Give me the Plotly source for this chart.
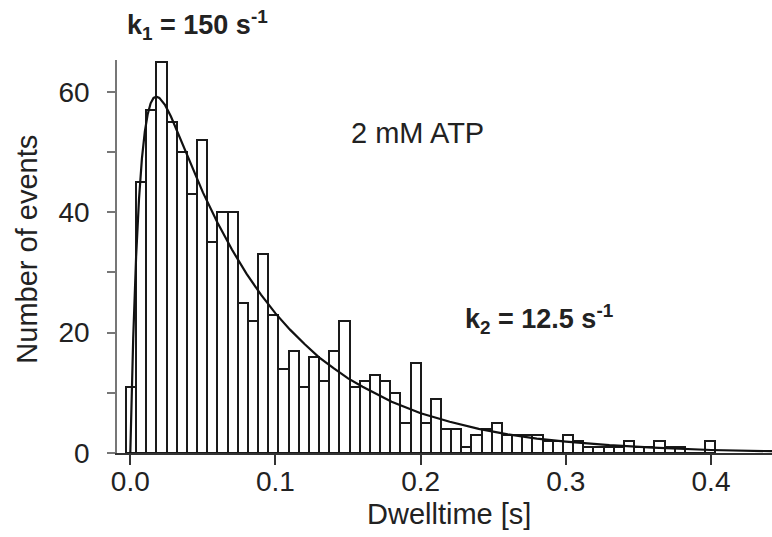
import plotly.graph_objects as go

# ---- data ----
BIN_WIDTH = 0.007
counts = [11, 45, 57, 65, 55, 50, 43, 52, 35, 40,
          40, 25, 22, 33, 23, 14, 17, 11, 16, 12,
          17, 22, 11, 12, 13, 12, 10, 5, 15, 5,
          9, 4, 4, 1, 3, 4, 5, 3, 3, 3,
          3, 2, 2, 3, 2, 1, 1, 1, 1, 2,
          1, 1, 2, 1, 1, 0, 0, 2]
bin_centers = [round(0.0005 + BIN_WIDTH * i, 4) for i in range(len(counts))]

fit_t = [0.0, 0.002, 0.004, 0.006, 0.008, 0.010, 0.012, 0.014, 0.016, 0.018,
         0.020, 0.024, 0.028, 0.032, 0.036, 0.040, 0.045, 0.050, 0.060, 0.070,
         0.080, 0.090, 0.100, 0.110, 0.120, 0.130, 0.140, 0.150, 0.160, 0.180,
         0.200, 0.220, 0.240, 0.260, 0.280, 0.300, 0.330, 0.360, 0.400, 0.442]
fit_n = [0.0, 19.0, 32.6, 42.2, 48.9, 53.4, 56.3, 58.1, 59.0, 59.2,
         59.0, 57.8, 55.9, 53.6, 51.3, 48.9, 46.1, 43.3, 38.3, 33.8,
         29.8, 26.3, 23.2, 20.5, 18.1, 15.9, 14.1, 12.4, 11.0, 8.5,
         6.6, 5.2, 4.0, 3.1, 2.4, 1.9, 1.3, 0.9, 0.5, 0.3]

x_tickvals = [0.0, 0.1, 0.2, 0.3, 0.4]
x_ticktext = ["0.0", "0.1", "0.2", "0.3", "0.4"]
y_tickvals = [0, 20, 40, 60]
y_ticktext = ["0", "20", "40", "60"]
y_minor_tickvals = [10, 30, 50]

FONT = "Liberation Sans, Arial, Helvetica, sans-serif"
TXT = "#222222"

fig = go.Figure()
fig.add_trace(go.Bar(
    x=bin_centers, y=counts, width=BIN_WIDTH,
    marker=dict(color="white", line=dict(color="#1a1a1a", width=2)),
    showlegend=False, hoverinfo="x+y",
))
fig.add_trace(go.Scatter(
    x=fit_t, y=fit_n, mode="lines",
    line=dict(color="#111111", width=2.2),
    showlegend=False,
))

fig.update_layout(
    width=772, height=537,
    margin=dict(l=117, r=0, t=60, b=84),
    paper_bgcolor="white", plot_bgcolor="white",
    bargap=0,
    font=dict(family=FONT, color=TXT),
    xaxis=dict(
        range=[-0.00916, 0.442],
        showline=True, linecolor="#333333", linewidth=1.5,
        ticks="outside", ticklen=10, tickwidth=1.5, tickcolor="#333333",
        tickvals=x_tickvals, ticktext=x_ticktext,
        tickfont=dict(size=28, family=FONT, color=TXT),
        ticklabelstandoff=-7,
        showgrid=False, zeroline=False,
    ),
    yaxis=dict(
        range=[0, 65.3],
        showline=True, linecolor="#777777", linewidth=1.5,
        ticks="outside", ticklen=8, tickwidth=1.5, tickcolor="#777777",
        tickvals=y_tickvals, ticktext=y_ticktext,
        tickfont=dict(size=28, family=FONT, color=TXT),
        ticklabelstandoff=12,
        minor=dict(tickvals=y_minor_tickvals, ticks="outside", ticklen=8,
                   tickwidth=1.5, tickcolor="#777777", showgrid=False),
        showgrid=False, zeroline=False,
    ),
    annotations=[
        dict(text="Dwelltime [s]", xref="paper", yref="paper",
             x=0.507, y=-0.156, xanchor="center", yanchor="middle",
             showarrow=False, font=dict(size=29, family=FONT, color=TXT)),
        dict(text="Number of events", xref="paper", yref="paper",
             x=-0.137, y=0.518, xanchor="center", yanchor="middle",
             textangle=-90, showarrow=False,
             font=dict(size=29, family=FONT, color=TXT)),
        dict(text="2 mM ATP", xref="paper", yref="paper",
             x=0.4595, y=0.814, xanchor="center", yanchor="middle",
             showarrow=False, font=dict(size=29, family=FONT, color=TXT)),
        dict(text="<b>k<sub>1</sub> = 150 s<sup>-1</sup></b>", xref="paper", yref="paper",
             x=0.0122, y=1.089, xanchor="left", yanchor="middle",
             showarrow=False, font=dict(size=27, family=FONT, color=TXT)),
        dict(text="<b>k<sub>2</sub> = 12.5 s<sup>-1</sup></b>", xref="paper", yref="paper",
             x=0.528, y=0.341, xanchor="left", yanchor="middle",
             showarrow=False, font=dict(size=27, family=FONT, color=TXT)),
    ],
)

fig.write_html("out.html")
